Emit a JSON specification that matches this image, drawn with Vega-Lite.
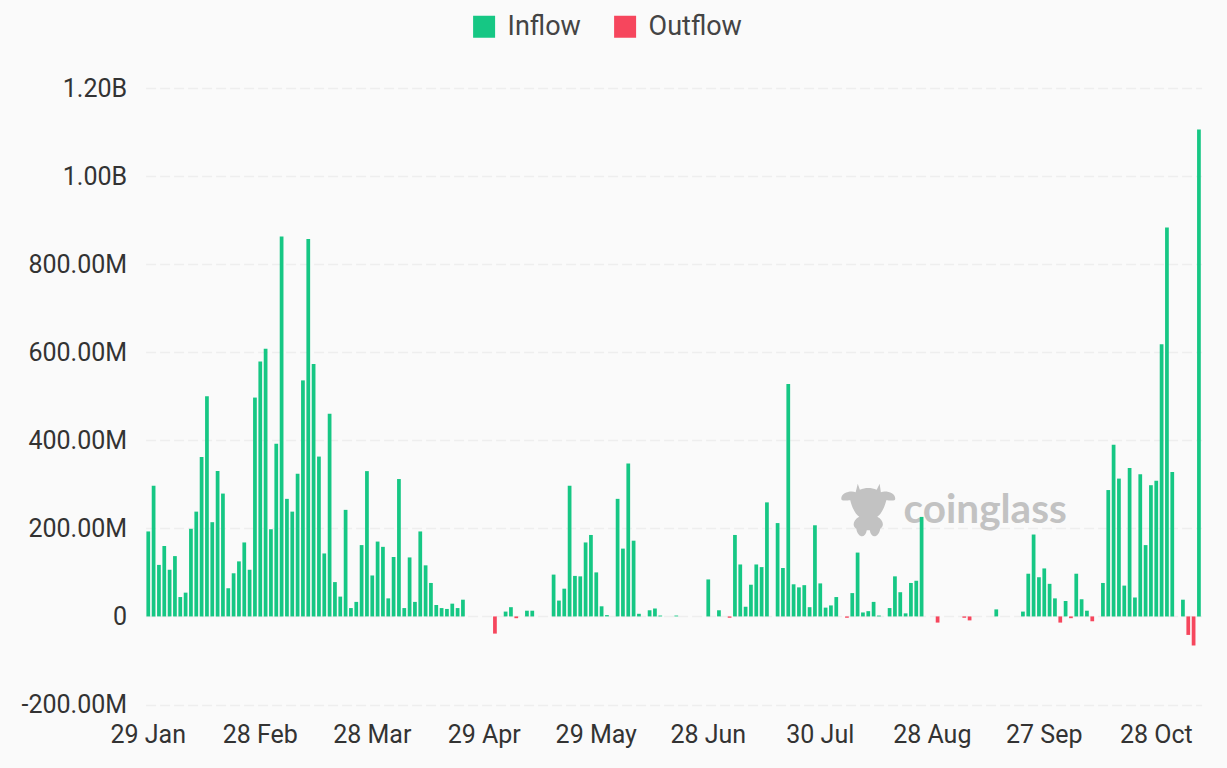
{"$schema":"https://vega.github.io/schema/vega-lite/v6.json","autosize":{"type":"none"},"padding":{"left":145.6,"top":88,"right":25.4,"bottom":63.5},"width":1056,"height":616.5,"background":"#fafafa","config":{"view":{"stroke":null},"font":"Roboto"},"datasets":{"flows":[
{"date":"2024-01-29","flow":193,"type":"Inflow"},{"date":"2024-01-30","flow":297,"type":"Inflow"},{"date":"2024-01-31","flow":117,"type":"Inflow"},{"date":"2024-02-01","flow":160,"type":"Inflow"},{"date":"2024-02-02","flow":106,"type":"Inflow"},
{"date":"2024-02-05","flow":137,"type":"Inflow"},{"date":"2024-02-06","flow":44,"type":"Inflow"},{"date":"2024-02-07","flow":54,"type":"Inflow"},{"date":"2024-02-08","flow":199,"type":"Inflow"},{"date":"2024-02-09","flow":238,"type":"Inflow"},
{"date":"2024-02-12","flow":362,"type":"Inflow"},{"date":"2024-02-13","flow":500,"type":"Inflow"},{"date":"2024-02-14","flow":214,"type":"Inflow"},{"date":"2024-02-15","flow":330,"type":"Inflow"},{"date":"2024-02-16","flow":279,"type":"Inflow"},
{"date":"2024-02-20","flow":64,"type":"Inflow"},{"date":"2024-02-21","flow":98,"type":"Inflow"},{"date":"2024-02-22","flow":125,"type":"Inflow"},{"date":"2024-02-23","flow":168,"type":"Inflow"},
{"date":"2024-02-26","flow":106,"type":"Inflow"},{"date":"2024-02-27","flow":497,"type":"Inflow"},{"date":"2024-02-28","flow":579,"type":"Inflow"},{"date":"2024-02-29","flow":608,"type":"Inflow"},{"date":"2024-03-01","flow":198,"type":"Inflow"},
{"date":"2024-03-04","flow":392,"type":"Inflow"},{"date":"2024-03-05","flow":863,"type":"Inflow"},{"date":"2024-03-06","flow":267,"type":"Inflow"},{"date":"2024-03-07","flow":238,"type":"Inflow"},{"date":"2024-03-08","flow":324,"type":"Inflow"},
{"date":"2024-03-11","flow":536,"type":"Inflow"},{"date":"2024-03-12","flow":857,"type":"Inflow"},{"date":"2024-03-13","flow":573,"type":"Inflow"},{"date":"2024-03-14","flow":363,"type":"Inflow"},{"date":"2024-03-15","flow":143,"type":"Inflow"},
{"date":"2024-03-18","flow":460,"type":"Inflow"},{"date":"2024-03-19","flow":78,"type":"Inflow"},{"date":"2024-03-20","flow":45,"type":"Inflow"},{"date":"2024-03-21","flow":242,"type":"Inflow"},{"date":"2024-03-22","flow":19,"type":"Inflow"},
{"date":"2024-03-25","flow":33,"type":"Inflow"},{"date":"2024-03-26","flow":162,"type":"Inflow"},{"date":"2024-03-27","flow":330,"type":"Inflow"},{"date":"2024-03-28","flow":93,"type":"Inflow"},
{"date":"2024-04-01","flow":170,"type":"Inflow"},{"date":"2024-04-02","flow":158,"type":"Inflow"},{"date":"2024-04-03","flow":41,"type":"Inflow"},{"date":"2024-04-04","flow":135,"type":"Inflow"},{"date":"2024-04-05","flow":312,"type":"Inflow"},
{"date":"2024-04-08","flow":19,"type":"Inflow"},{"date":"2024-04-09","flow":134,"type":"Inflow"},{"date":"2024-04-10","flow":33,"type":"Inflow"},{"date":"2024-04-11","flow":193,"type":"Inflow"},{"date":"2024-04-12","flow":116,"type":"Inflow"},
{"date":"2024-04-15","flow":76,"type":"Inflow"},{"date":"2024-04-16","flow":26,"type":"Inflow"},{"date":"2024-04-17","flow":19,"type":"Inflow"},{"date":"2024-04-18","flow":17,"type":"Inflow"},{"date":"2024-04-19","flow":29,"type":"Inflow"},
{"date":"2024-04-22","flow":19,"type":"Inflow"},{"date":"2024-04-23","flow":38,"type":"Inflow"},{"date":"2024-04-24","flow":0,"type":"Inflow"},{"date":"2024-04-25","flow":0,"type":"Inflow"},{"date":"2024-04-26","flow":0,"type":"Inflow"},
{"date":"2024-04-29","flow":0,"type":"Inflow"},{"date":"2024-04-30","flow":0,"type":"Inflow"},{"date":"2024-05-01","flow":-39,"type":"Outflow"},{"date":"2024-05-02","flow":0,"type":"Inflow"},{"date":"2024-05-03","flow":11,"type":"Inflow"},
{"date":"2024-05-06","flow":21,"type":"Inflow"},{"date":"2024-05-07","flow":-4,"type":"Outflow"},{"date":"2024-05-08","flow":0,"type":"Inflow"},{"date":"2024-05-09","flow":13,"type":"Inflow"},{"date":"2024-05-10","flow":13,"type":"Inflow"},
{"date":"2024-05-13","flow":0,"type":"Inflow"},{"date":"2024-05-14","flow":0,"type":"Inflow"},{"date":"2024-05-15","flow":0,"type":"Inflow"},{"date":"2024-05-16","flow":95,"type":"Inflow"},{"date":"2024-05-17","flow":36,"type":"Inflow"},
{"date":"2024-05-20","flow":63,"type":"Inflow"},{"date":"2024-05-21","flow":297,"type":"Inflow"},{"date":"2024-05-22","flow":92,"type":"Inflow"},{"date":"2024-05-23","flow":91,"type":"Inflow"},{"date":"2024-05-24","flow":168,"type":"Inflow"},
{"date":"2024-05-28","flow":185,"type":"Inflow"},{"date":"2024-05-29","flow":100,"type":"Inflow"},{"date":"2024-05-30","flow":23,"type":"Inflow"},{"date":"2024-05-31","flow":3,"type":"Inflow"},
{"date":"2024-06-03","flow":0,"type":"Inflow"},{"date":"2024-06-04","flow":267,"type":"Inflow"},{"date":"2024-06-05","flow":154,"type":"Inflow"},{"date":"2024-06-06","flow":347,"type":"Inflow"},{"date":"2024-06-07","flow":172,"type":"Inflow"},
{"date":"2024-06-10","flow":6,"type":"Inflow"},{"date":"2024-06-11","flow":0,"type":"Inflow"},{"date":"2024-06-12","flow":14,"type":"Inflow"},{"date":"2024-06-13","flow":18,"type":"Inflow"},{"date":"2024-06-14","flow":2,"type":"Inflow"},
{"date":"2024-06-17","flow":0,"type":"Inflow"},{"date":"2024-06-18","flow":0,"type":"Inflow"},{"date":"2024-06-20","flow":2,"type":"Inflow"},{"date":"2024-06-21","flow":0,"type":"Inflow"},
{"date":"2024-06-24","flow":0,"type":"Inflow"},{"date":"2024-06-25","flow":0,"type":"Inflow"},{"date":"2024-06-26","flow":0,"type":"Inflow"},{"date":"2024-06-27","flow":0,"type":"Inflow"},{"date":"2024-06-28","flow":84,"type":"Inflow"},
{"date":"2024-07-01","flow":0,"type":"Inflow"},{"date":"2024-07-02","flow":14,"type":"Inflow"},{"date":"2024-07-03","flow":0,"type":"Inflow"},{"date":"2024-07-05","flow":-3,"type":"Outflow"},
{"date":"2024-07-08","flow":185,"type":"Inflow"},{"date":"2024-07-09","flow":118,"type":"Inflow"},{"date":"2024-07-10","flow":22,"type":"Inflow"},{"date":"2024-07-11","flow":72,"type":"Inflow"},{"date":"2024-07-12","flow":118,"type":"Inflow"},
{"date":"2024-07-15","flow":112,"type":"Inflow"},{"date":"2024-07-16","flow":259,"type":"Inflow"},{"date":"2024-07-17","flow":0,"type":"Inflow"},{"date":"2024-07-18","flow":212,"type":"Inflow"},{"date":"2024-07-19","flow":110,"type":"Inflow"},
{"date":"2024-07-22","flow":528,"type":"Inflow"},{"date":"2024-07-23","flow":73,"type":"Inflow"},{"date":"2024-07-24","flow":66,"type":"Inflow"},{"date":"2024-07-25","flow":71,"type":"Inflow"},{"date":"2024-07-26","flow":21,"type":"Inflow"},
{"date":"2024-07-29","flow":207,"type":"Inflow"},{"date":"2024-07-30","flow":75,"type":"Inflow"},{"date":"2024-07-31","flow":20,"type":"Inflow"},{"date":"2024-08-01","flow":25,"type":"Inflow"},{"date":"2024-08-02","flow":44,"type":"Inflow"},
{"date":"2024-08-05","flow":0,"type":"Inflow"},{"date":"2024-08-06","flow":-3,"type":"Outflow"},{"date":"2024-08-07","flow":53,"type":"Inflow"},{"date":"2024-08-08","flow":145,"type":"Inflow"},{"date":"2024-08-09","flow":9,"type":"Inflow"},
{"date":"2024-08-12","flow":12,"type":"Inflow"},{"date":"2024-08-13","flow":33,"type":"Inflow"},{"date":"2024-08-14","flow":2,"type":"Inflow"},{"date":"2024-08-15","flow":0,"type":"Inflow"},{"date":"2024-08-16","flow":19,"type":"Inflow"},
{"date":"2024-08-19","flow":91,"type":"Inflow"},{"date":"2024-08-20","flow":55,"type":"Inflow"},{"date":"2024-08-21","flow":7,"type":"Inflow"},{"date":"2024-08-22","flow":76,"type":"Inflow"},{"date":"2024-08-23","flow":81,"type":"Inflow"},
{"date":"2024-08-26","flow":226,"type":"Inflow"},{"date":"2024-08-27","flow":0,"type":"Inflow"},{"date":"2024-08-28","flow":0,"type":"Inflow"},{"date":"2024-08-29","flow":-14,"type":"Outflow"},{"date":"2024-08-30","flow":0,"type":"Inflow"},
{"date":"2024-09-03","flow":0,"type":"Inflow"},{"date":"2024-09-04","flow":0,"type":"Inflow"},{"date":"2024-09-05","flow":0,"type":"Inflow"},{"date":"2024-09-06","flow":-3,"type":"Outflow"},
{"date":"2024-09-09","flow":-9,"type":"Outflow"},{"date":"2024-09-10","flow":0,"type":"Inflow"},{"date":"2024-09-11","flow":0,"type":"Inflow"},{"date":"2024-09-12","flow":0,"type":"Inflow"},{"date":"2024-09-13","flow":0,"type":"Inflow"},
{"date":"2024-09-16","flow":16,"type":"Inflow"},{"date":"2024-09-17","flow":0,"type":"Inflow"},{"date":"2024-09-18","flow":0,"type":"Inflow"},{"date":"2024-09-19","flow":0,"type":"Inflow"},{"date":"2024-09-20","flow":0,"type":"Inflow"},
{"date":"2024-09-23","flow":11,"type":"Inflow"},{"date":"2024-09-24","flow":97,"type":"Inflow"},{"date":"2024-09-25","flow":186,"type":"Inflow"},{"date":"2024-09-26","flow":89,"type":"Inflow"},{"date":"2024-09-27","flow":109,"type":"Inflow"},
{"date":"2024-09-30","flow":74,"type":"Inflow"},{"date":"2024-10-01","flow":41,"type":"Inflow"},{"date":"2024-10-02","flow":-14,"type":"Outflow"},{"date":"2024-10-03","flow":35,"type":"Inflow"},{"date":"2024-10-04","flow":-4,"type":"Outflow"},
{"date":"2024-10-07","flow":97,"type":"Inflow"},{"date":"2024-10-08","flow":39,"type":"Inflow"},{"date":"2024-10-09","flow":13,"type":"Inflow"},{"date":"2024-10-10","flow":-11,"type":"Outflow"},{"date":"2024-10-11","flow":0,"type":"Inflow"},
{"date":"2024-10-14","flow":76,"type":"Inflow"},{"date":"2024-10-15","flow":287,"type":"Inflow"},{"date":"2024-10-16","flow":390,"type":"Inflow"},{"date":"2024-10-17","flow":313,"type":"Inflow"},{"date":"2024-10-18","flow":70,"type":"Inflow"},
{"date":"2024-10-21","flow":337,"type":"Inflow"},{"date":"2024-10-22","flow":43,"type":"Inflow"},{"date":"2024-10-23","flow":323,"type":"Inflow"},{"date":"2024-10-24","flow":162,"type":"Inflow"},{"date":"2024-10-25","flow":298,"type":"Inflow"},
{"date":"2024-10-28","flow":308,"type":"Inflow"},{"date":"2024-10-29","flow":618,"type":"Inflow"},{"date":"2024-10-30","flow":883,"type":"Inflow"},{"date":"2024-10-31","flow":328,"type":"Inflow"},{"date":"2024-11-01","flow":0,"type":"Inflow"},
{"date":"2024-11-04","flow":38,"type":"Inflow"},{"date":"2024-11-05","flow":-42,"type":"Outflow"},{"date":"2024-11-06","flow":-66,"type":"Outflow"},{"date":"2024-11-07","flow":1106,"type":"Inflow"}
]},"encoding":{"x":{"field":"date","type":"ordinal","scale":{"paddingInner":0.3,"paddingOuter":0.15},"axis":{"title":null,"values":["2024-01-29","2024-02-28","2024-03-28","2024-04-29","2024-05-29","2024-06-28","2024-07-30","2024-08-28","2024-09-27","2024-10-28"],"labelExpr":"utcFormat(toDate(datum.value),'%d %b')","labelAngle":0,"labelFontSize":25,"labelColor":"#333333","labelPadding":18,"labelOverlap":false,"labelBound":false,"ticks":false,"domain":false,"grid":false}},"y":{"field":"flow","type":"quantitative","scale":{"domain":[-200,1200],"nice":false,"zero":false},"axis":{"title":null,"values":[-200,0,200,400,600,800,1000,1200],"labelExpr":"datum.value==0?'0':(datum.value<0?'-':'')+(abs(datum.value)>=1000?format(abs(datum.value)/1000,'.2f')+'B':format(abs(datum.value),'.2f')+'M')","labelFontSize":25,"labelColor":"#333333","labelPadding":19,"ticks":false,"domain":false,"grid":true,"gridColor":"#eeeeee","gridDash":[10,4],"gridWidth":1.5}}},"layer":[{"data":{"values":[{"date":"2024-08-12","flow":240}]},"mark":{"type":"point","filled":true,"opacity":1,"color":"#c2c2c2","size":3600,"shape":"M-0.35,-0.9 L-0.28,-0.7 C-0.1,-0.78 0.1,-0.78 0.28,-0.7 L0.38,-0.9 L0.42,-0.62 C0.6,-0.68 0.9,-0.6 0.9,-0.4 C0.9,-0.3 0.7,-0.35 0.6,-0.35 C0.55,-0.1 0.4,0.15 0.3,0.2 C0.5,0.3 0.55,0.5 0.4,0.6 C0.35,0.9 0.1,0.95 0.05,0.65 L-0.05,0.65 C-0.1,0.95 -0.35,0.9 -0.4,0.6 C-0.55,0.5 -0.5,0.3 -0.3,0.2 C-0.4,0.15 -0.55,-0.1 -0.6,-0.35 C-0.7,-0.35 -0.9,-0.3 -0.9,-0.4 C-0.9,-0.6 -0.6,-0.68 -0.42,-0.62 Z"}},{"data":{"values":[{"date":"2024-08-21","flow":240,"label":"coinglass"}]},"mark":{"type":"text","align":"left","baseline":"middle","font":"Lato","fontWeight":"bold","fontSize":40.5,"dx":-2,"color":"#c2c2c2"},"encoding":{"text":{"field":"label"}}},{"data":{"name":"flows"},"mark":{"type":"bar"},"encoding":{"color":{"field":"type","type":"nominal","scale":{"domain":["Inflow","Outflow"],"range":["#16c784","#f6465d"]},"legend":{"title":null,"orient":"none","legendX":325,"legendY":-75,"direction":"horizontal","symbolType":"square","symbolSize":484,"labelFontSize":27,"labelColor":"#444444","labelOffset":10,"columnPadding":30,"symbolOpacity":1}}}}]}
